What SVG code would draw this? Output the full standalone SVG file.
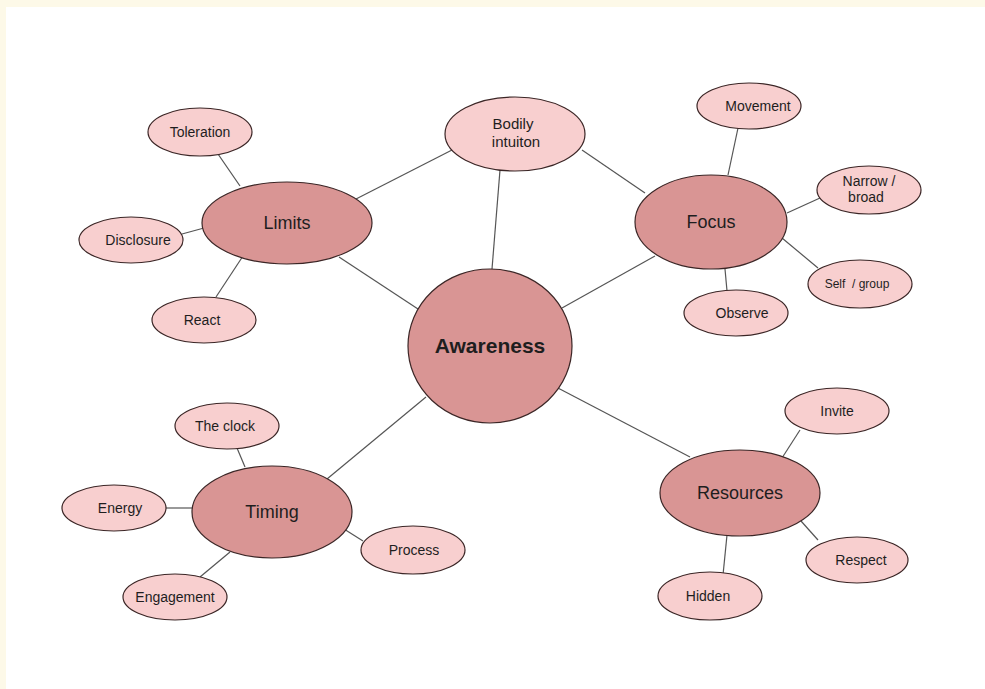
<svg xmlns="http://www.w3.org/2000/svg" width="985" height="689" viewBox="0 0 985 689">
  <style>
    .hub { fill: #d99594; stroke: #3b2626; stroke-width: 1.2; }
    .main { fill: #d99594; stroke: #3b2626; stroke-width: 1.2; }
    .leaf { fill: #f8cfcf; stroke: #3b2626; stroke-width: 1.2; }
    .links line { stroke: #555555; stroke-width: 1.2; }
    text { font-family: "Liberation Sans", Arial, sans-serif; fill: #1e1e1e; text-anchor: middle; }
    .t-hub { font-size: 21px; font-weight: bold; }
    .t-main { font-size: 18px; }
    .t-leaf { font-size: 14px; }
    .t-small { font-size: 12px; }
  </style>

  <!-- page -->
  <rect x="0" y="0" width="985" height="689" fill="#fdf9e8"/>
  <rect x="6" y="7" width="979" height="682" fill="#ffffff"/>

  <!-- connectors -->
  <g id="connectors" class="links">
    <line x1="356" y1="199" x2="452" y2="150"/>
    <line x1="582" y1="150" x2="645" y2="193"/>
    <line x1="500" y1="170" x2="492" y2="269"/>
    <line x1="339" y1="257" x2="418" y2="309"/>
    <line x1="655" y1="256" x2="562" y2="308"/>
    <line x1="426" y1="397" x2="327" y2="479"/>
    <line x1="556" y1="387" x2="690" y2="457"/>
    <line x1="218" y1="154" x2="240" y2="186"/>
    <line x1="182" y1="234" x2="204" y2="228"/>
    <line x1="216" y1="297" x2="243" y2="256"/>
    <line x1="738" y1="128" x2="728" y2="175"/>
    <line x1="820" y1="198" x2="787" y2="213"/>
    <line x1="818" y1="268" x2="782" y2="238"/>
    <line x1="727" y1="291" x2="725" y2="269"/>
    <line x1="237" y1="448" x2="245" y2="467"/>
    <line x1="166" y1="508" x2="193" y2="508"/>
    <line x1="200" y1="577" x2="230" y2="552"/>
    <line x1="363" y1="541" x2="344" y2="529"/>
    <line x1="800" y1="430" x2="782" y2="458"/>
    <line x1="818" y1="540" x2="801" y2="521"/>
    <line x1="723" y1="575" x2="727" y2="535"/>
  </g>

  <!-- centre -->
  <g id="awareness">
    <ellipse class="hub" cx="490" cy="346" rx="82" ry="77"/>
    <text class="t-hub" x="490" y="353">Awareness</text>
  </g>

  <!-- main branches -->
  <g id="bodily-intuiton">
    <ellipse class="leaf" cx="515" cy="134" rx="70" ry="37"/>
    <text class="t-leaf" x="513" y="129" style="font-size:15px">Bodily</text>
    <text class="t-leaf" x="516" y="147" style="font-size:15px">intuiton</text>
  </g>
  <g id="limits">
    <ellipse class="main" cx="287" cy="223" rx="85" ry="41"/>
    <text class="t-main" x="287" y="229">Limits</text>
  </g>
  <g id="focus">
    <ellipse class="main" cx="711" cy="222" rx="76" ry="47"/>
    <text class="t-main" x="711" y="228">Focus</text>
  </g>
  <g id="timing">
    <ellipse class="main" cx="272" cy="512" rx="80" ry="46"/>
    <text class="t-main" x="272" y="518">Timing</text>
  </g>
  <g id="resources">
    <ellipse class="main" cx="740" cy="493" rx="80" ry="43"/>
    <text class="t-main" x="740" y="499">Resources</text>
  </g>

  <!-- leaves: Limits -->
  <g id="toleration">
    <ellipse class="leaf" cx="200" cy="132" rx="52" ry="24"/>
    <text class="t-leaf" x="200" y="137">Toleration</text>
  </g>
  <g id="disclosure">
    <ellipse class="leaf" cx="131" cy="240" rx="52" ry="23"/>
    <text class="t-leaf" x="138" y="245">Disclosure</text>
  </g>
  <g id="react">
    <ellipse class="leaf" cx="204" cy="320" rx="52" ry="23"/>
    <text class="t-leaf" x="202" y="325">React</text>
  </g>

  <!-- leaves: Focus -->
  <g id="movement">
    <ellipse class="leaf" cx="749" cy="106" rx="52" ry="23"/>
    <text class="t-leaf" x="758" y="111">Movement</text>
  </g>
  <g id="narrow-broad">
    <ellipse class="leaf" cx="869" cy="190" rx="52" ry="24"/>
    <text class="t-leaf" x="869" y="186">Narrow /</text>
    <text class="t-leaf" x="866" y="202">broad</text>
  </g>
  <g id="self-group">
    <ellipse class="leaf" cx="860" cy="284" rx="52" ry="24"/>
    <text class="t-small" x="857" y="288" style="white-space:pre">Self  / group</text>
  </g>
  <g id="observe">
    <ellipse class="leaf" cx="736" cy="313" rx="52" ry="23"/>
    <text class="t-leaf" x="742" y="318">Observe</text>
  </g>

  <!-- leaves: Timing -->
  <g id="the-clock">
    <ellipse class="leaf" cx="227" cy="426" rx="52" ry="23"/>
    <text class="t-leaf" x="225" y="431">The clock</text>
  </g>
  <g id="energy">
    <ellipse class="leaf" cx="114" cy="508" rx="52" ry="23"/>
    <text class="t-leaf" x="120" y="513">Energy</text>
  </g>
  <g id="engagement">
    <ellipse class="leaf" cx="175" cy="597" rx="52" ry="23"/>
    <text class="t-leaf" x="175" y="602">Engagement</text>
  </g>
  <g id="process">
    <ellipse class="leaf" cx="413" cy="550" rx="52" ry="24"/>
    <text class="t-leaf" x="414" y="555">Process</text>
  </g>

  <!-- leaves: Resources -->
  <g id="invite">
    <ellipse class="leaf" cx="837" cy="411" rx="52" ry="23"/>
    <text class="t-leaf" x="837" y="416">Invite</text>
  </g>
  <g id="respect">
    <ellipse class="leaf" cx="857" cy="560" rx="51" ry="23"/>
    <text class="t-leaf" x="861" y="565">Respect</text>
  </g>
  <g id="hidden">
    <ellipse class="leaf" cx="710" cy="596" rx="52" ry="24"/>
    <text class="t-leaf" x="708" y="601">Hidden</text>
  </g>
</svg>
